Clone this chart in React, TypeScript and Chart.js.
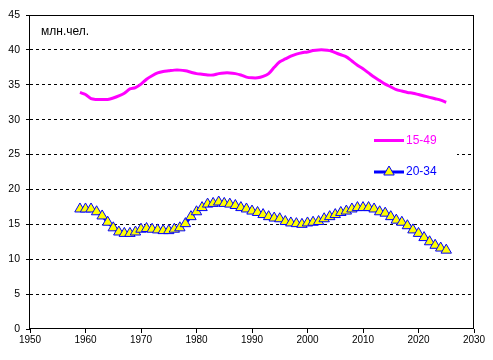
import React, { useEffect, useRef } from "react";
import { Chart, registerables } from "chart.js";

Chart.register(...registerables);

const FONT = "Arial, 'Liberation Sans', sans-serif";

const years = [
  1959, 1960, 1961, 1962, 1963, 1964, 1965, 1966, 1967, 1968,
  1969, 1970, 1971, 1972, 1973, 1974, 1975, 1976, 1977, 1978,
  1979, 1980, 1981, 1982, 1983, 1984, 1985, 1986, 1987, 1988,
  1989, 1990, 1991, 1992, 1993, 1994, 1995, 1996, 1997, 1998,
  1999, 2000, 2001, 2002, 2003, 2004, 2005, 2006, 2007, 2008,
  2009, 2010, 2011, 2012, 2013, 2014, 2015, 2016, 2017, 2018,
  2019, 2020, 2021, 2022, 2023, 2024, 2025,
];

const age15to49 = [
  33.9, 33.6, 33.0, 32.9, 32.9, 32.9, 33.1, 33.4, 33.8, 34.4,
  34.6, 35.1, 35.8, 36.3, 36.7, 36.9, 37.0, 37.1, 37.1, 37.0,
  36.8, 36.6, 36.5, 36.4, 36.4, 36.6, 36.7, 36.7, 36.6, 36.4,
  36.1, 36.0, 36.0, 36.2, 36.6, 37.5, 38.3, 38.7, 39.1, 39.4,
  39.6, 39.7, 39.9, 40.0, 40.0, 39.9, 39.6, 39.3, 39.0, 38.4,
  37.8, 37.3, 36.7, 36.1, 35.6, 35.1, 34.7, 34.3, 34.1, 33.9,
  33.8, 33.6, 33.4, 33.2, 33.0, 32.8, 32.5,
];

const age20to34 = [
  17.2, 17.2, 17.2, 16.8, 16.2, 15.3, 14.5, 13.9, 13.7, 13.7,
  13.9, 14.3, 14.4, 14.3, 14.2, 14.1, 14.1, 14.3, 14.5, 15.1,
  16.1, 16.8, 17.4, 17.9, 18.0, 18.2, 18.0, 17.9, 17.7, 17.4,
  17.2, 16.9, 16.7, 16.4, 16.1, 15.9, 15.8, 15.4, 15.2, 15.1,
  15.0, 15.2, 15.3, 15.4, 15.8, 16.1, 16.4, 16.7, 16.9, 17.2,
  17.4, 17.4, 17.4, 17.2, 16.8, 16.6, 16.1, 15.6, 15.3, 14.8,
  14.2, 13.7, 13.1, 12.5, 12.0, 11.6, 11.3,
];

const seriesLabels = ["15-49", "20-34"];
const unitLabel = "млн.чел.";
const xMin = 1950;
const xMax = 2030;
const yMin = 0;
const yMax = 45;

const framePlugin = {
  id: "frame",
  beforeDraw(chart: any) {
    const { ctx } = chart;
    ctx.save();
    ctx.fillStyle = "#ffffff";
    ctx.fillRect(0, 0, chart.width, chart.height);
    ctx.restore();
  },
  afterDraw(chart: any) {
    const { ctx, chartArea: a } = chart;
    ctx.save();
    ctx.setLineDash([]);
    ctx.strokeStyle = "#000000";
    ctx.lineWidth = 1;
    ctx.strokeRect(
      Math.round(a.left) - 0.5,
      Math.round(a.top) + 0.5,
      Math.round(a.right - a.left),
      Math.round(a.bottom - a.top) - 1
    );

    // unit label
    ctx.fillStyle = "#000000";
    ctx.font = `12px ${FONT}`;
    ctx.textAlign = "left";
    ctx.textBaseline = "middle";
    ctx.fillText(unitLabel, a.left + 11, a.top + 17);

    // legend
    const bx = a.left + 320;
    const by = a.top + 110;
    ctx.fillStyle = "#ffffff";
    ctx.fillRect(bx, by, 107, 61);
    const ds = chart.data.datasets;
    const rows = [by + 15.5, by + 47];
    ds.forEach((d: any, i: number) => {
      const y = rows[i];
      ctx.strokeStyle = d.borderColor;
      ctx.lineWidth = 3;
      ctx.beginPath();
      ctx.moveTo(bx + 24, y);
      ctx.lineTo(bx + 54, y);
      ctx.stroke();
      if (d.pointStyle === "triangle") {
        const cx = bx + 39;
        const r = d.pointRadius;
        const h = r * 1.5;
        const e = (3 * r) / Math.sqrt(3);
        ctx.beginPath();
        ctx.moveTo(cx, y - h / 2 - 1.5);
        ctx.lineTo(cx + e / 2, y + h / 2 - 1.5);
        ctx.lineTo(cx - e / 2, y + h / 2 - 1.5);
        ctx.closePath();
        ctx.fillStyle = d.pointBackgroundColor;
        ctx.fill();
        ctx.lineWidth = 1;
        ctx.strokeStyle = d.pointBorderColor;
        ctx.stroke();
      }
      ctx.fillStyle = d.borderColor;
      ctx.font = `12px ${FONT}`;
      ctx.textAlign = "left";
      ctx.textBaseline = "middle";
      ctx.fillText(d.label, bx + 56, y);
    });
    ctx.restore();
  },
};

export default function App() {
  const ref = useRef<HTMLCanvasElement | null>(null);

  useEffect(() => {
    if (!ref.current) return;
    const chart = new Chart(ref.current, {
      type: "line",
      data: {
        datasets: [
          {
            label: seriesLabels[0],
            data: years.map((x, i) => ({ x, y: age15to49[i] })),
            borderColor: "#FF00FF",
            backgroundColor: "#FF00FF",
            borderWidth: 3,
            pointRadius: 0,
            tension: 0.3,
            fill: false,
          },
          {
            label: seriesLabels[1],
            data: years.map((x, i) => ({ x, y: age20to34[i] })),
            borderColor: "#0000FF",
            backgroundColor: "#FFFF00",
            borderWidth: 3,
            pointStyle: "triangle",
            pointRadius: 6,
            pointBackgroundColor: "#FFFF00",
            pointBorderColor: "#0000FF",
            pointBorderWidth: 1,
            tension: 0.3,
            fill: false,
          },
        ],
      },
      options: {
        animation: false,
        responsive: false,
        devicePixelRatio: 1,
        layout: { padding: { left: 0, top: 15, right: 19, bottom: 0 } },
        plugins: {
          legend: { display: false },
          tooltip: { enabled: false },
        },
        scales: {
          x: {
            type: "linear",
            min: xMin,
            max: xMax,
            afterFit: (s: any) => {
              s.height = 31;
            },
            ticks: {
              stepSize: 10,
              color: "#000000",
              font: { family: FONT, size: 10 },
              padding: 1,
              maxRotation: 0,
              callback: (v: any) => String(v),
            },
            grid: {
              drawOnChartArea: false,
              drawTicks: true,
              tickLength: 4,
              tickColor: "#000000",
            },
            border: { display: false },
          },
          y: {
            min: yMin,
            max: yMax,
            afterFit: (s: any) => {
              s.width = 30;
            },
            ticks: {
              stepSize: 5,
              color: "#000000",
              font: { family: FONT, size: 10.5 },
              padding: 6,
            },
            grid: {
              color: (c: any) =>
                c.tick && (c.tick.value === yMin || c.tick.value === yMax)
                  ? "rgba(0,0,0,0)"
                  : "#000000",
              lineWidth: 1,
              drawTicks: true,
              tickLength: 4,
              tickColor: "#000000",
              tickBorderDash: [],
            },
            border: { display: false, dash: [3, 3] },
          },
        },
      },
      plugins: [framePlugin],
    } as any);
    return () => chart.destroy();
  }, []);

  return (
    <div
      style={{
        position: "fixed",
        left: 0,
        top: 0,
        width: 493,
        height: 360,
        background: "#ffffff",
      }}
    >
      <canvas ref={ref} width={493} height={360} />
    </div>
  );
}
